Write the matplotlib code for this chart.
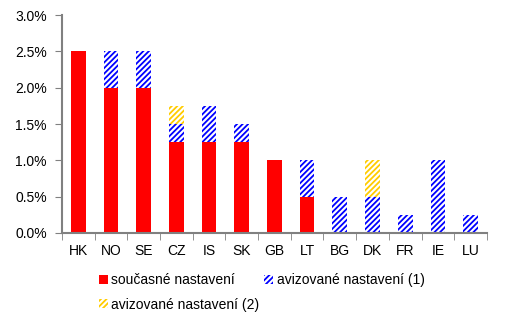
import numpy as np
import matplotlib
matplotlib.use('Agg')
from matplotlib import pyplot as plt
from matplotlib.ticker import FuncFormatter

countries = ['HK', 'NO', 'SE', 'CZ', 'IS', 'SK', 'GB', 'LT', 'BG', 'DK', 'FR', 'IE', 'LU']
current = [2.5, 2.0, 2.0, 1.25, 1.25, 1.25, 1.0, 0.5, 0, 0, 0, 0, 0]
announced1 = [0, 0.5, 0.5, 0.25, 0.5, 0.25, 0, 0.5, 0.5, 0.5, 0.25, 1.0, 0.25]
announced2 = [0, 0, 0, 0.25, 0, 0, 0, 0, 0, 0.5, 0, 0, 0]
labels = ['současné nastavení', 'avizované nastavení (1)', 'avizované nastavení (2)']

plt.rcParams['font.family'] = ['Liberation Sans', 'DejaVu Sans']
plt.rcParams['hatch.linewidth'] = 1.3

fig = plt.figure(figsize=(5.23, 3.27), dpi=100)
ax = fig.add_axes([0.1185, 0.2875, 0.8125, 0.6665])

x = np.arange(len(countries))
cur = np.array(current)
a1 = np.array(announced1)
a2 = np.array(announced2)
w = 0.45
b0 = ax.bar(x, cur, w, color='#ff0000', linewidth=0, label=labels[0])
b1 = ax.bar(x, a1, w, bottom=cur, facecolor='white', edgecolor='#0000ff',
            hatch='//////', linewidth=0, label=labels[1])
b2 = ax.bar(x, a2, w, bottom=cur + a1, facecolor='white', edgecolor='#ffcc00',
            hatch='//////', linewidth=0, label=labels[2])

ax.set_xlim(-0.5, len(countries) - 0.5)
ax.set_ylim(0, 3.0)
ax.set_yticks(np.arange(0, 3.01, 0.5))
ax.yaxis.set_major_formatter(FuncFormatter(lambda v, p: '%.1f%%' % v))
ax.set_xticks(x)
ax.set_xticklabels(countries)
ax.set_xticks(np.arange(-0.5, len(countries)), minor=True)
ax.tick_params(axis='x', which='major', length=0, labelsize=10, pad=8)
ax.tick_params(axis='x', which='minor', length=5, color='#808080', direction='out')
ax.tick_params(axis='y', length=5, color='#808080', labelsize=10, pad=6)
for s in ['top', 'right']:
    ax.spines[s].set_visible(False)
for s in ['left', 'bottom']:
    ax.spines[s].set_color('#808080')
    ax.spines[s].set_linewidth(1.5)

# row-major order: 0, 1 on first row, 2 below
ax.legend([b0, b2, b1], [labels[0], labels[2], labels[1]],
          loc='upper left', bbox_to_anchor=(0.087, -0.185), ncol=2, frameon=False,
          fontsize=10, handlelength=0.65, handleheight=0.65, handletextpad=0.25,
          columnspacing=0.35, labelspacing=0.75, borderpad=0, borderaxespad=0)

fig.savefig('out.png', dpi=100)
